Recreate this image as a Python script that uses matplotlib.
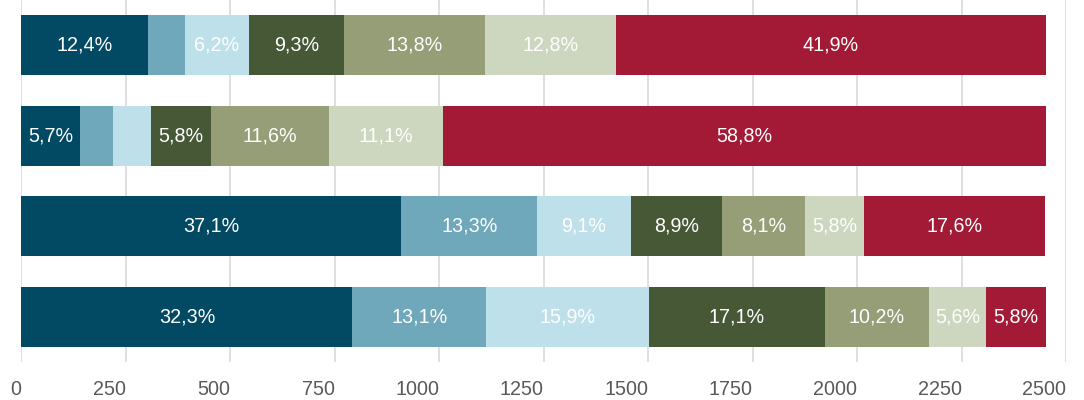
import matplotlib.pyplot as plt
import numpy as np

plt.rcParams['font.family'] = ['Liberation Sans', 'DejaVu Sans']

# Rows from top to bottom, counts per segment
rows = ['Row 1', 'Row 2', 'Row 3', 'Row 4']
seg_1 = [304, 140, 909, 792]
seg_2 = [88, 78, 326, 321]
seg_3 = [152, 93, 223, 390]
seg_4 = [228, 142, 218, 419]
seg_5 = [338, 284, 199, 250]
seg_6 = [314, 272, 142, 137]
seg_7 = [1027, 1442, 432, 142]

x_ticks = [0, 250, 500, 750, 1000, 1250, 1500, 1750, 2000, 2250, 2500]

segments = [seg_1, seg_2, seg_3, seg_4, seg_5, seg_6, seg_7]
colors = ['#024A63', '#6FA8BA', '#BEE0EB', '#475837', '#959E76', '#CDD6BE', '#A31A36']

fig = plt.figure(figsize=(10.84, 4.0), dpi=100)
ax = fig.add_axes([0.0198, 0.095, 0.9636, 0.905])

data = np.array(segments, dtype=float)
totals = data.sum(axis=0)
ypos = np.arange(len(rows))
left = np.zeros(len(rows))

for vals, col in zip(data, colors):
    ax.barh(ypos, vals, left=left, height=0.666, color=col, zorder=2)
    # Percentage labels inside segments (only for segments of 5% and up)
    for i, v in enumerate(vals):
        pct = v / totals[i] * 100
        if pct >= 5:
            ax.text(left[i] + v / 2, ypos[i], f'{pct:.1f}%'.replace('.', ','),
                    ha='center', va='center', color='white', fontsize=14.2, zorder=3)
    left += vals

ax.set_xlim(0, 2500)
ax.set_ylim(len(rows) - 0.5, -0.5)
ax.set_yticks([])
ax.set_xticks(x_ticks)
ax.set_xticklabels([str(t) for t in x_ticks], ha='right')
ax.tick_params(axis='x', length=0, pad=13, labelsize=14.2, labelcolor='#595959')
ax.grid(axis='x', color='#D9D9D9', linewidth=1.2, zorder=0)
ax.set_axisbelow(True)
for s in ax.spines.values():
    s.set_visible(False)

plt.savefig('out.png', dpi=100)
